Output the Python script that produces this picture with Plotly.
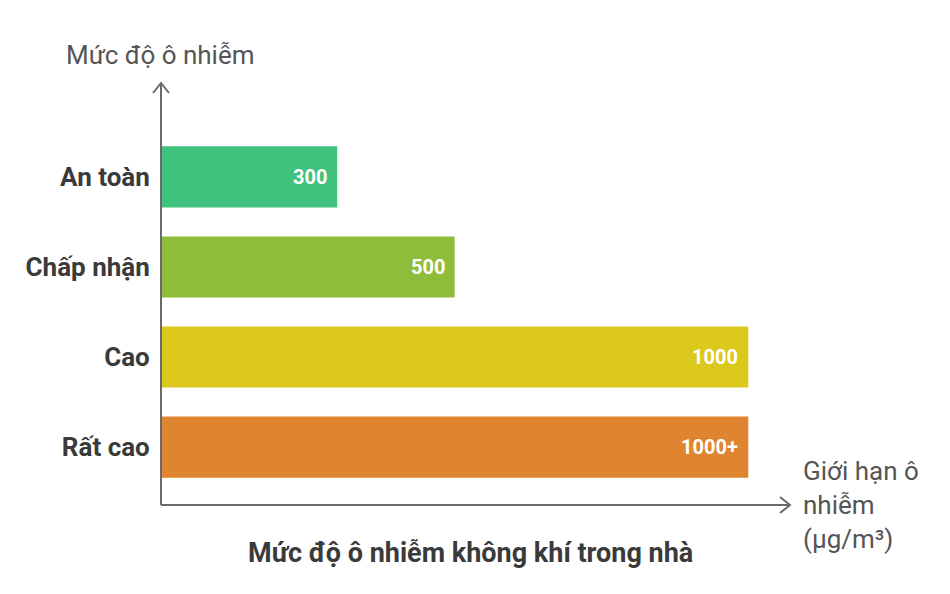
import plotly.graph_objects as go

categories = ["An toàn", "Chấp nhận", "Cao", "Rất cao"]
values = [300, 500, 1000, 1000]
value_labels = ["300", "500", "1000", "1000+"]
colors = ["#40C27F", "#8FBC3A", "#DDC91B", "#E0852F"]

title = "Mức độ ô nhiễm không khí trong nhà"
y_title = "Mức độ ô nhiễm"
x_title = "Giới hạn ô<br>nhiễm<br>(µg/m³)"

FONT = "Roboto"
AXIS_COLOR = "#6a6a6a"
TEXT_COLOR = "#555555"
DARK = "#3a3a3a"

fig = go.Figure()
fig.add_trace(go.Bar(
    y=categories, x=values, orientation="h",
    marker=dict(color=colors, line=dict(width=0)),
    width=0.68, hoverinfo="skip",
))

annotations = []
for c, v, lab in zip(categories, values, value_labels):
    annotations.append(dict(
        x=v, y=c, xref="x", yref="y", text=f"<b>{lab}</b>", showarrow=False,
        xanchor="right", xshift=-8, yanchor="middle",
        font=dict(family=FONT, size=20, color="white"),
    ))

annotations.append(dict(
    x=0, y=1, xref="paper", yref="paper", text=y_title, showarrow=False,
    xanchor="center", yanchor="bottom", yshift=11, xshift=-1,
    font=dict(family=FONT, size=26, color=TEXT_COLOR),
))
annotations.append(dict(
    x=1, y=0, xref="paper", yref="paper", text=x_title, showarrow=False,
    xanchor="left", yanchor="middle", xshift=11, yshift=0, align="left",
    font=dict(family=FONT, size=26, color=TEXT_COLOR),
))
annotations.append(dict(
    x=0.5, y=0, xref="paper", yref="paper", text=f"<b>{title}</b>", showarrow=False,
    xanchor="center", yanchor="top", yshift=-30, xshift=-5,
    font=dict(family=FONT, size=27, color=DARK),
))

shapes = [
    dict(type="line", xref="paper", yref="paper", x0=0, x1=0, y0=0, y1=1,
         line=dict(color=AXIS_COLOR, width=2)),
    dict(type="line", xref="paper", yref="paper", x0=0, x1=1, y0=0, y1=0,
         line=dict(color=AXIS_COLOR, width=2)),
    dict(type="path", xref="paper", yref="paper", xsizemode="pixel", ysizemode="pixel",
         xanchor=0, yanchor=1, path="M -8,-10 L 0,0 L 8,-10",
         line=dict(color=AXIS_COLOR, width=2)),
    dict(type="path", xref="paper", yref="paper", xsizemode="pixel", ysizemode="pixel",
         xanchor=1, yanchor=0, path="M -10,8 L 0,0 L -10,-8",
         line=dict(color=AXIS_COLOR, width=2)),
]

fig.update_layout(
    width=950, height=594,
    margin=dict(l=153, r=168, t=75, b=97),
    paper_bgcolor="white", plot_bgcolor="white",
    showlegend=False,
    xaxis=dict(range=[0, 1071], showgrid=False, zeroline=False, showticklabels=False,
               showline=False, ticks=""),
    yaxis=dict(categoryorder="array", categoryarray=categories,
               range=[3.644, -1.044], showgrid=False, zeroline=False, showline=False,
               ticks="outside", ticklen=5, tickcolor="rgba(0,0,0,0)",
               tickfont=dict(family=FONT, size=26, color=DARK, weight="bold")),
    annotations=annotations,
    shapes=shapes,
    font=dict(family=FONT),
)

fig.write_html("out.html")
